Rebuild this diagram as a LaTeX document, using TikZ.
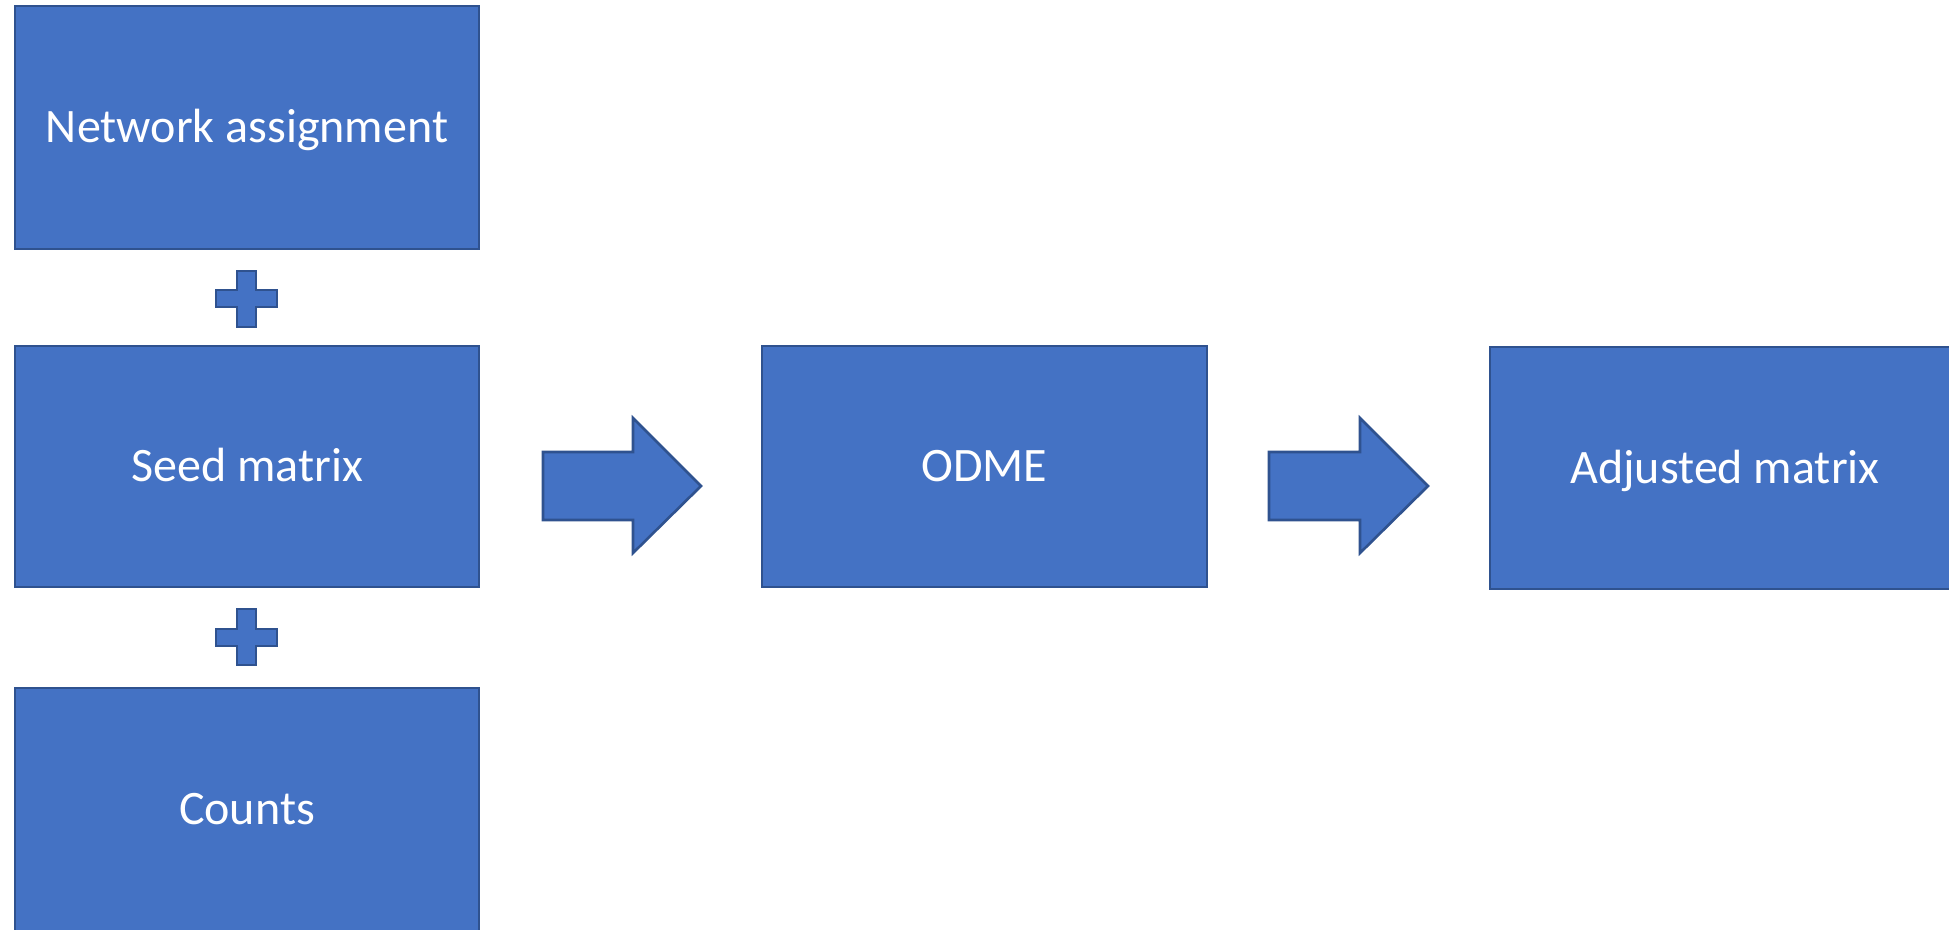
\documentclass[tikz,border=0pt]{standalone}
\usepackage{fontspec}
\setmainfont{Carlito}
\definecolor{fillc}{HTML}{4472C4}
\definecolor{bord}{HTML}{2F528F}
\begin{document}
\begin{tikzpicture}[x=0.01cm,y=-0.01cm,
  blk/.style={draw=bord, fill=fillc, line width=0.75pt},
  lbl/.style={text=white, inner sep=0pt, text height=8.8pt, text depth=0pt,
    font=\fontsize{13.66}{16}\selectfont},
  box/.style={blk, rectangle, lbl}]
\useasboundingbox (0,0) rectangle (1949,929);
\node[box, minimum width=4.64cm, minimum height=2.43cm] (net) at (247,127.5) {Network assignment};
\node[box, minimum width=4.64cm, minimum height=2.41cm] (seed) at (247,466.5) {Seed matrix};
\node[box, minimum width=4.64cm, minimum height=2.60cm] (counts) at (247,818) {};
\node[lbl] (countstxt) at (247,809) {Counts};
\node[box, minimum width=4.45cm, minimum height=2.41cm] (odme) at (984.5,466.5) {ODME};
\node[box, minimum width=4.70cm, minimum height=2.42cm] (adj) at (1725,468) {Adjusted matrix};
% plus signs
\draw[blk] (237,271) -- (256,271) -- (256,290) -- (277,290) -- (277,307) -- (256,307) -- (256,327) -- (237,327) -- (237,307) -- (216,307) -- (216,290) -- (237,290) -- cycle;
\draw[blk] (237,609) -- (256,609) -- (256,629) -- (277,629) -- (277,646) -- (256,646) -- (256,665) -- (237,665) -- (237,646) -- (216,646) -- (216,629) -- (237,629) -- cycle;
% block arrows
\draw[blk] (543,452) -- (633,452) -- (633,418) -- (701,486) -- (633,553) -- (633,520) -- (543,520) -- cycle;
\draw[blk] (1269,452) -- (1360,452) -- (1360,418) -- (1428,486) -- (1360,553) -- (1360,520) -- (1269,520) -- cycle;
\end{tikzpicture}
\end{document}
